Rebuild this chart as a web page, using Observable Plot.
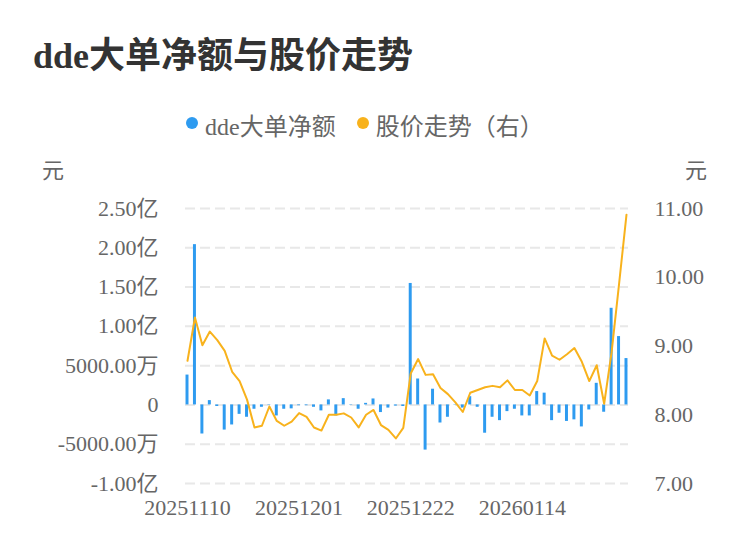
<!DOCTYPE html>
<html><head><meta charset="utf-8">
<script src="https://cdn.jsdelivr.net/npm/d3@7"></script>
<script src="https://cdn.jsdelivr.net/npm/@observablehq/plot@0.6"></script>
<style>
body{margin:0;background:#fff;}
#wrap{position:relative;width:750px;height:558px;overflow:hidden;font-family:"Liberation Serif","Noto Sans CJK SC",serif;}
#title{position:absolute;left:33px;top:34px;font-size:36px;line-height:44px;font-weight:bold;color:#333;white-space:nowrap;}
#legend{position:absolute;top:107px;left:186px;height:34px;display:flex;align-items:center;font-size:24px;color:#666;white-space:nowrap;}
.dot{display:inline-block;width:12px;height:12px;border-radius:50%;margin-right:7px;margin-top:-3px;}
.unit{position:absolute;top:154px;font-family:"Noto Sans CJK SC",sans-serif;font-size:22px;line-height:28px;color:#666;}
#chart{position:absolute;left:0;top:150px;}
</style>
</head><body>
<div id="wrap">
  <div id="title">dde大单净额与股价走势</div>
  <div id="legend"><span class="dot" style="background:#2e9bf0"></span><span>dde大单净额</span><span class="dot" style="background:#f8b21c;margin-left:21px"></span><span>股价走势（右）</span></div>
  <div class="unit" style="left:42px">元</div>
  <div class="unit" style="left:685px">元</div>
  <div id="chart"></div>
</div>
<script>
const dates = [
"20251110","20251111","20251112","20251113","20251114","20251117","20251118","20251119","20251120","20251121",
"20251124","20251125","20251126","20251127","20251128","20251201","20251202","20251203","20251204","20251205",
"20251208","20251209","20251210","20251211","20251212","20251215","20251216","20251217","20251218","20251219",
"20251222","20251223","20251224","20251225","20251226","20251229","20251230","20251231","20260105","20260106",
"20260107","20260108","20260109","20260112","20260113","20260114","20260115","20260116","20260119","20260120",
"20260121","20260122","20260123","20260126","20260127","20260128","20260129","20260130","20260202","20260203"];
// dde big-order net amount, unit: 亿元
const amounts = [
0.38,2.04,-0.37,0.055,-0.02,-0.32,-0.255,-0.12,-0.157,-0.055,
-0.03,0.005,-0.14,-0.055,-0.05,-0.01,-0.01,-0.03,-0.076,0.064,
-0.14,0.08,-0.005,-0.055,0.02,0.076,-0.097,-0.04,-0.015,-0.02,
1.546,0.33,-0.575,0.2,-0.23,-0.157,-0.005,-0.04,0.105,-0.03,
-0.36,-0.157,-0.2,-0.085,-0.055,-0.14,-0.14,0.17,0.15,-0.2,
-0.106,-0.21,-0.19,-0.28,-0.064,0.275,-0.093,1.23,0.87,0.59];
// share price, unit: 元
const prices = [
8.785,9.415,9.01,9.21,9.085,8.93,8.625,8.49,8.22,7.815,
7.84,8.12,7.91,7.84,7.90,8.025,7.97,7.815,7.77,8.0,
8.0,8.02,7.96,7.815,8.0,8.07,7.85,7.78,7.655,7.81,
8.60,8.81,8.58,8.59,8.39,8.30,8.18,8.04,8.32,8.36,
8.40,8.42,8.40,8.50,8.36,8.36,8.28,8.49,9.11,8.86,
8.80,8.88,8.97,8.77,8.49,8.72,8.16,8.91,9.90,10.91];
const leftTicks = [-1,-0.5,0,0.5,1,1.5,2,2.5];
const rightTicks = [7,8,9,10,11];
const xTicks = ["20251110","20251201","20251222","20260114"];

// right axis (price) mapped onto the left scale domain
const leftDomain = [-1, 2.5], rightDomain = [7, 11];
const toLeft = p => leftDomain[0] + (p - rightDomain[0]) * (leftDomain[1]-leftDomain[0])/(rightDomain[1]-rightDomain[0]);
const toRight = v => rightDomain[0] + (v - leftDomain[0]) * (rightDomain[1]-rightDomain[0])/(leftDomain[1]-leftDomain[0]);
const fmtLeft = v => v === 0 ? "0" : Math.abs(v) >= 1 ? v.toFixed(2) + "亿" : (v*10000).toFixed(2) + "万";

const data = dates.map((d,i) => ({date:d, amt:amounts[i], price:prices[i]}));
const font = '"Liberation Serif","Noto Sans CJK SC",serif';

const chart = Plot.plot({
  width:750, height:408,
  marginTop:58, marginBottom:75, marginLeft:185, marginRight:122,
  style:{fontFamily:font, fontSize:"22px", color:"#666", background:"transparent", overflow:"visible"},
  x:{type:"band", domain:dates, paddingInner:0.6, paddingOuter:0.07, round:false},
  y:{domain:leftDomain},
  marks:[
    Plot.gridY(leftTicks,{stroke:"#e8e8e8", strokeOpacity:1, strokeWidth:2, strokeDasharray:"10,5"}),
    Plot.barY(data,{x:"date", y:"amt", fill:"#2e9bf0"}),
    Plot.lineY(data,{x:"date", y:d => toLeft(d.price), stroke:"#f8b21c", strokeWidth:2, curve:"linear"}),
    Plot.axisY(leftTicks,{anchor:"left", tickSize:0, tickPadding:27, tickFormat:fmtLeft, label:null, fill:"#666"}),
    Plot.axisY(rightTicks.map(toLeft),{anchor:"right", tickSize:0, tickPadding:26, tickFormat:v => toRight(v).toFixed(2), label:null, fill:"#666"}),
    Plot.axisX(xTicks,{tickSize:0, tickPadding:16, label:null, fill:"#666"})
  ]
});
document.getElementById("chart").appendChild(chart);
</script>
</body></html>
